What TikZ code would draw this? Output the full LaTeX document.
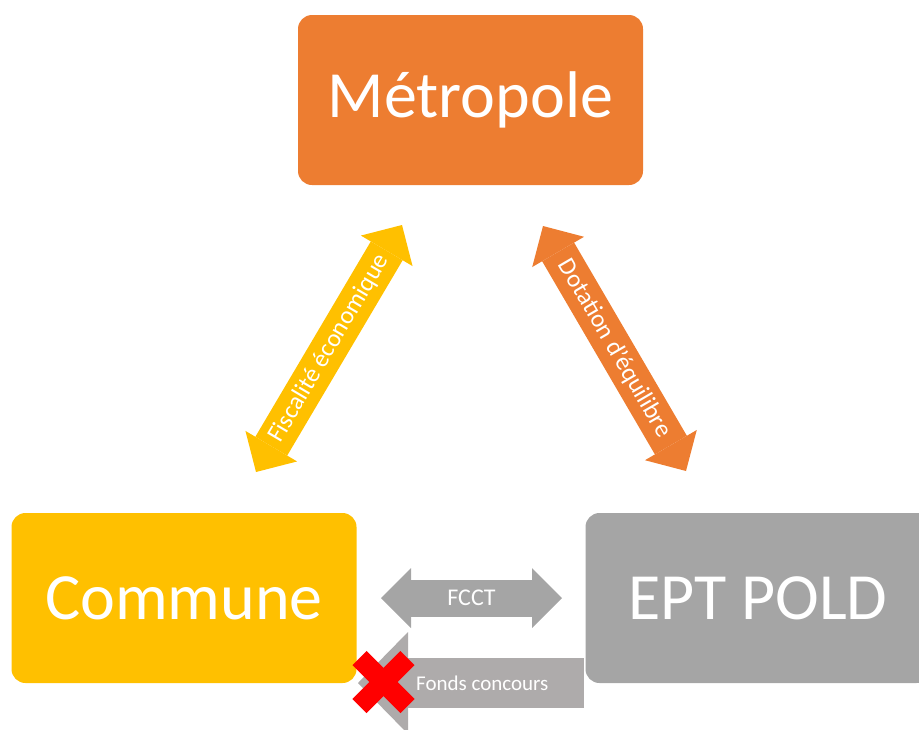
\documentclass[tikz,border=0pt]{standalone}
\usepackage{fontspec}
\setmainfont{Carlito}
\usetikzlibrary{arrows.meta}
\definecolor{metroorange}{HTML}{ED7D31}
\definecolor{communeyellow}{HTML}{FFC000}
\definecolor{eptgray}{HTML}{A5A5A5}
\definecolor{fondsgray}{HTML}{AEABAB}
\definecolor{crossred}{HTML}{FF0000}
\tikzset{
	entity/.style={rounded corners=14pt, minimum width=345pt, minimum height=170pt,
		text=white, inner sep=0pt, font=\fontsize{66}{70}\selectfont},
	flow/.style={line width=37pt,
		{Triangle[width=60pt,length=30pt,line width=0pt]}-{Triangle[width=60pt,length=30pt,line width=0pt]}},
	flowlabel/.style={text=white, font=\fontsize{25}{28}\selectfont, midway}
}
\begin{document}
\begin{tikzpicture}[x=1pt, y=-1pt]
		\useasboundingbox (0,0) rectangle (919,729);
		\clip (0,0) rectangle (919,729);
		%fonds concours (under the commune box)
		\coordinate (fonds-start) at (584,683);
		\coordinate (fonds-tip) at (358,683);
		\draw[fondsgray, line width=50pt, -{Triangle[width=102pt,length=50pt,line width=0pt]}]
			(fonds-start) -- node[pos=0.45, text=white, font=\fontsize{21}{23}\selectfont] {Fonds concours} (fonds-tip);
		%boxes
		\node[entity, fill=metroorange]	(metropole)	at (470.5,100)	{Métropole};
		\node[entity, fill=communeyellow]	(commune)	at (184,598)	{Commune};
		\node[entity, fill=eptgray]		(ept)		at (758,598)	{EPT POLD};
		%flows
		\coordinate (fisc-low) at (256,472);
		\coordinate (fisc-high) at (402,225);
		\draw[flow, communeyellow] (fisc-low) -- node[flowlabel, sloped] {Fiscalité économique} (fisc-high);
		\coordinate (dot-high) at (543,226);
		\coordinate (dot-low) at (686,471);
		\draw[flow, metroorange] (dot-high) -- node[flowlabel, sloped] {Dotation d'équilibre} (dot-low);
		\coordinate (fcct-left) at (381,598);
		\coordinate (fcct-right) at (562,598);
		\draw[flow, eptgray] (fcct-left) -- node[flowlabel, font=\fontsize{24}{26}\selectfont] {FCCT} (fcct-right);
		%cross
		\coordinate (cross) at (383.5,682);
		\draw[crossred, line width=20pt] ([shift={(-24,-24)}]cross) -- ([shift={(24,24)}]cross);
		\draw[crossred, line width=20pt] ([shift={(-24,24)}]cross) -- ([shift={(24,-24)}]cross);
\end{tikzpicture}
\end{document}
